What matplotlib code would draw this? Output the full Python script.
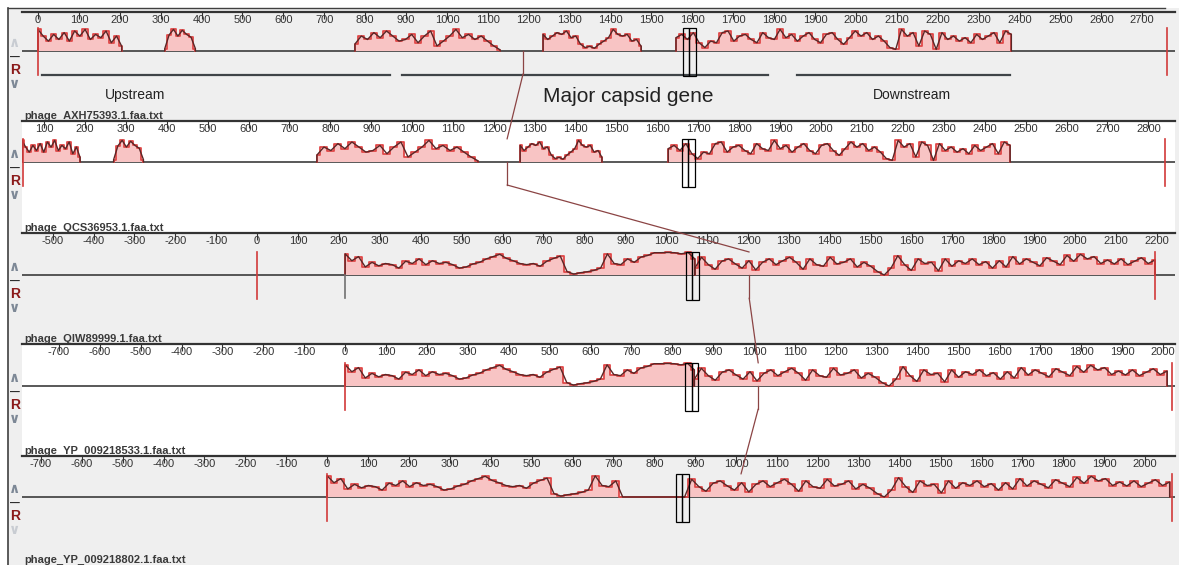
import numpy as np
import matplotlib.pyplot as plt
from matplotlib.patches import Rectangle, ConnectionPatch
from matplotlib.transforms import blended_transform_factory

plt.rcParams['font.family'] = ['Liberation Sans', 'DejaVu Sans']
plt.rcParams['axes.unicode_minus'] = False

# ---- data -------------------------------------------------------------
names = ["phage_AXH75393.1.faa.txt", "phage_QCS36953.1.faa.txt",
         "phage_QIW89999.1.faa.txt", "phage_YP_009218533.1.faa.txt",
         "phage_YP_009218802.1.faa.txt"]

# first visible sequence position of every genome row
view_left = [-39, 46, -575, -790, -746]
genome_start = [0, 49, 0, 0, 0]
genome_end = [2760, 2841, 2195, 2022, 2066]

# similarity profile (0..1) of the blocks shared by rows 1 and 2
prof_a = [0.94, 0.65, 0.43, 0.72, 0.5, 0.8, 0.43, 0.87, 0.65, 0.94, 0.5,
          0.72, 0.58, 0.87, 0.36, 0.65, 0.2]
prof_b = [0.1, 0.7, 0.94, 0.65, 0.9, 0.72, 0.6, 0.1]
prof_c = [0.3, 0.65, 0.5, 0.8, 0.58, 0.87, 0.65, 0.43, 0.5, 0.72, 0.36,
          0.65, 0.87, 0.22, 0.43, 0.65, 0.94, 0.58, 0.72, 0.5, 0.65, 0.43,
          0.22, 0.05]
prof_d = [0.72, 0.5, 0.65, 0.8, 0.72, 0.87, 0.58, 0.65, 0.3, 0.15, 0.2,
          0.12, 0.3, 0.43, 0.58, 0.94, 0.72, 0.65, 0.72, 0.43, 0.5, 0.2]
prof_e = [0.58, 0.72, 0.5, 0.8, 0.36, 0.15, 0.43,
          0.36, 0.8, 0.87, 0.43, 0.65,
          0.72, 0.5, 0.36, 0.8, 0.58,
          0.5, 0.94, 0.58, 0.72, 0.43,
          0.65, 0.8, 0.5, 0.36, 0.72,
          0.8, 0.5, 0.29, 0.58, 0.87,
          0.65, 0.8, 0.5, 0.65, 0.43, 0.15,
          0.07, 0.94, 0.65, 0.8, 0.22, 0.87,
          0.72, 0.07, 0.8, 0.5, 0.65,
          0.43, 0.58, 0.36, 0.72, 0.5,
          0.65, 0.8, 0.36, 0.87, 0.72]

# similarity profile of the long block shared by rows 3-5 (left / right of cursor)
core_left = [0.92, 0.62, 0.8,
             0.35, 0.55, 0.4, 0.5, 0.45,
             0.3, 0.6, 0.5, 0.7, 0.45,
             0.62, 0.5, 0.55, 0.45, 0.3,
             0.35, 0.48, 0.55, 0.7, 0.8,
             0.9, 0.72, 0.62, 0.5, 0.45,
             0.5, 0.38, 0.6, 0.72, 0.82,
             0.15, 0.04, 0.1, 0.14, 0.2,
             0.3, 0.92, 0.5, 0.45, 0.7,
             0.55, 0.78, 0.85, 0.97, 0.97,
             0.98, 0.97, 0.92, 0.98, 0.7]
core_right = [0.3, 0.77, 0.45, 0.25, 0.6,
              0.7, 0.48, 0.3, 0.62, 0.22,
              0.55, 0.7, 0.45, 0.62, 0.77,
              0.55, 0.25, 0.7, 0.45, 0.38,
              0.77, 0.48, 0.55, 0.7, 0.35,
              0.55, 0.38, 0.15, 0.0, 0.3,
              0.84, 0.45, 0.2, 0.7, 0.5,
              0.55, 0.18, 0.7, 0.38, 0.62,
              0.5, 0.7, 0.45, 0.58, 0.3,
              0.62, 0.35, 0.8, 0.48, 0.7,
              0.55, 0.4, 0.75, 0.6, 0.45,
              0.85, 0.6, 0.9, 0.7, 0.8,
              0.5, 0.65, 0.48, 0.7, 0.45,
              0.6, 0.75, 0.5, 0.65]

# (start, end, profile) per row
blocks = [
    [(0, 205, prof_a), (310, 385, prof_b), (775, 1130, prof_c),
     (1235, 1475, prof_d), (1560, 2380, prof_e)],
    [(46, 188, prof_a), (270, 343, prof_b), (767, 1161, prof_c),
     (1264, 1464, prof_d), (1626, 2462, prof_e)],
    [(215, 1070, core_left), (1070, 2195, core_right)],
    [(0, 854, core_left), (854, 2010, core_right)],
    [(0, 874, core_left), (874, 2060, core_right)],
]
gaps = [None, None, None, None, (721, 883)]

box_pos = [1592, 1675, 1064, 848, 868]
cursor_pos = [1186, 1232, 1203, 1010, 1012]

regions = [(10, 861), (890, 1785), (1856, 2377)]
region_labels = ["Upstream", "Major capsid gene", "Downstream"]
region_label_pos = [237, 1443, 2137]

# ---- layout (pixels) --------------------------------------------------
W, H = 1179, 565
ruler_y = [12, 121, 233, 344, 456]
center_y = [51, 162, 275, 386, 497]
bottom_y = ruler_y[1:] + [565]
AX_L, AX_W = 22, 1153
UNITS_PER_PX = 2.445
AMP = 23

GRAY = '#efefef'
FILL = '#f8c4c4'
RED = '#e04848'
DARK = '#5b2626'
LINE = '#3c3c3c'

fig = plt.figure(figsize=(W / 100, H / 100), dpi=100)
fig.patches.append(Rectangle((8 / W, 0), (W - 8) / W, (H - 8) / H,
                             transform=fig.transFigure, facecolor=GRAY,
                             edgecolor='none', zorder=-5))

axes = []
for i in range(5):
    top, bot, cen = ruler_y[i], bottom_y[i], center_y[i]
    ax = fig.add_axes([AX_L / W, 1 - bot / H, AX_W / W, (bot - top) / H])
    ax.set_facecolor(GRAY if i % 2 == 0 else 'white')
    ax.set_xlim(view_left[i], view_left[i] + AX_W * UNITS_PER_PX)
    ax.set_ylim(-(bot - cen), cen - top)
    for s in ['left', 'right', 'bottom']:
        ax.spines[s].set_visible(False)
    ax.spines['top'].set_linewidth(1.6)
    ax.spines['top'].set_color('#333333')
    ax.xaxis.set_major_locator(plt.MultipleLocator(100))
    ax.tick_params(axis='x', top=True, bottom=False, labeltop=True,
                   labelbottom=False, direction='in', length=5, width=0.8,
                   pad=-9.5, labelsize=8, labelcolor='#333333', color='#333333')
    ax.set_yticks([])
    axes.append(ax)

    ax.axhline(0, color=LINE, lw=1.2, zorder=1)

    for s, e, vals in blocks[i]:
        ys = np.asarray(vals, float) * AMP
        xs = np.linspace(s, e, len(ys))
        if gaps[i]:
            ys = np.where((xs > gaps[i][0]) & (xs < gaps[i][1]), 0, ys)
        xx = np.r_[s, xs, e]
        yy = np.r_[0, ys, 0]
        ax.fill_between(xx, 0, yy, color=FILL, lw=0, step='mid', zorder=2)
        ax.plot(xx, yy, color=RED, lw=1.3, drawstyle='steps-mid', zorder=3)
        ax.plot(xx, yy, color=DARK, lw=1.0, zorder=4)

    # genome ends
    for p in (genome_start[i], genome_end[i]):
        ax.plot([p, p], [-24, 23], color='#d23a3a', lw=1.2, zorder=5)
    if i == 2:
        s0 = blocks[i][0][0]
        ax.plot([s0, s0], [-23, 0], color='#707070', lw=1.2, zorder=5)

    # cursor box
    for x0 in (box_pos[i] - 16, box_pos[i]):
        ax.add_patch(Rectangle((x0, -25), 16, 48, facecolor='none',
                               edgecolor='black', lw=0.9, zorder=6))

    # cursor tail below centre line
    if i < 4:
        ax.plot([cursor_pos[i]] * 2, [0, -23], color='#8b4444', lw=0.9, zorder=6)

    # row label
    ax.text(0.002, 2 / (bot - top), names[i], transform=ax.transAxes,
            fontsize=8, fontweight='bold', color='#3a3a3a',
            va='baseline', ha='left')

    # left control icons
    tr = blended_transform_factory(fig.transFigure, ax.transData)
    up_col = '#c8ccd2' if i == 0 else '#7d8896'
    dn_col = '#c8ccd2' if i == 4 else '#7d8896'
    ax.text(15 / W, 8, '∧', transform=tr, ha='center', va='center',
            fontsize=10, fontweight='bold', color=up_col, family='DejaVu Sans',
            clip_on=False)
    ax.text(15 / W, -7, '—', transform=tr, ha='center', va='center',
            fontsize=7, fontweight='bold', color='#222222', clip_on=False)
    ax.text(15 / W, -19, 'R', transform=tr, ha='center', va='center',
            fontsize=10, fontweight='bold', color='#8b1a1a', clip_on=False)
    ax.text(15 / W, -33, '∨', transform=tr, ha='center', va='center',
            fontsize=10, fontweight='bold', color=dn_col, family='DejaVu Sans',
            clip_on=False)

# connecting cursor lines between rows
for i in range(4):
    con = ConnectionPatch(xyA=(cursor_pos[i], -23), coordsA=axes[i].transData,
                          xyB=(cursor_pos[i + 1], 23), coordsB=axes[i + 1].transData,
                          color='#8b4444', lw=0.9, zorder=10)
    fig.add_artist(con)

# region annotations on the first row
ax0 = axes[0]
for (s, e) in regions:
    ax0.plot([s, e], [-24, -24], color='#3f4448', lw=1.6, zorder=5)
for lab, p in zip(region_labels, region_label_pos):
    big = lab.startswith('Major')
    ax0.text(p, -46 if big else -44, lab, ha='center', va='center',
             fontsize=15 if big else 10, color='#222222')

# outer frame
fig.add_artist(plt.Line2D([8 / W, 8 / W], [0, 1 - 8 / H], transform=fig.transFigure,
                          color='#404040', lw=1.2))
fig.add_artist(plt.Line2D([8 / W, 1165 / W], [1 - 8 / H, 1 - 8 / H],
                          transform=fig.transFigure, color='#404040', lw=1.0))

fig.savefig('out.png', dpi=100)
